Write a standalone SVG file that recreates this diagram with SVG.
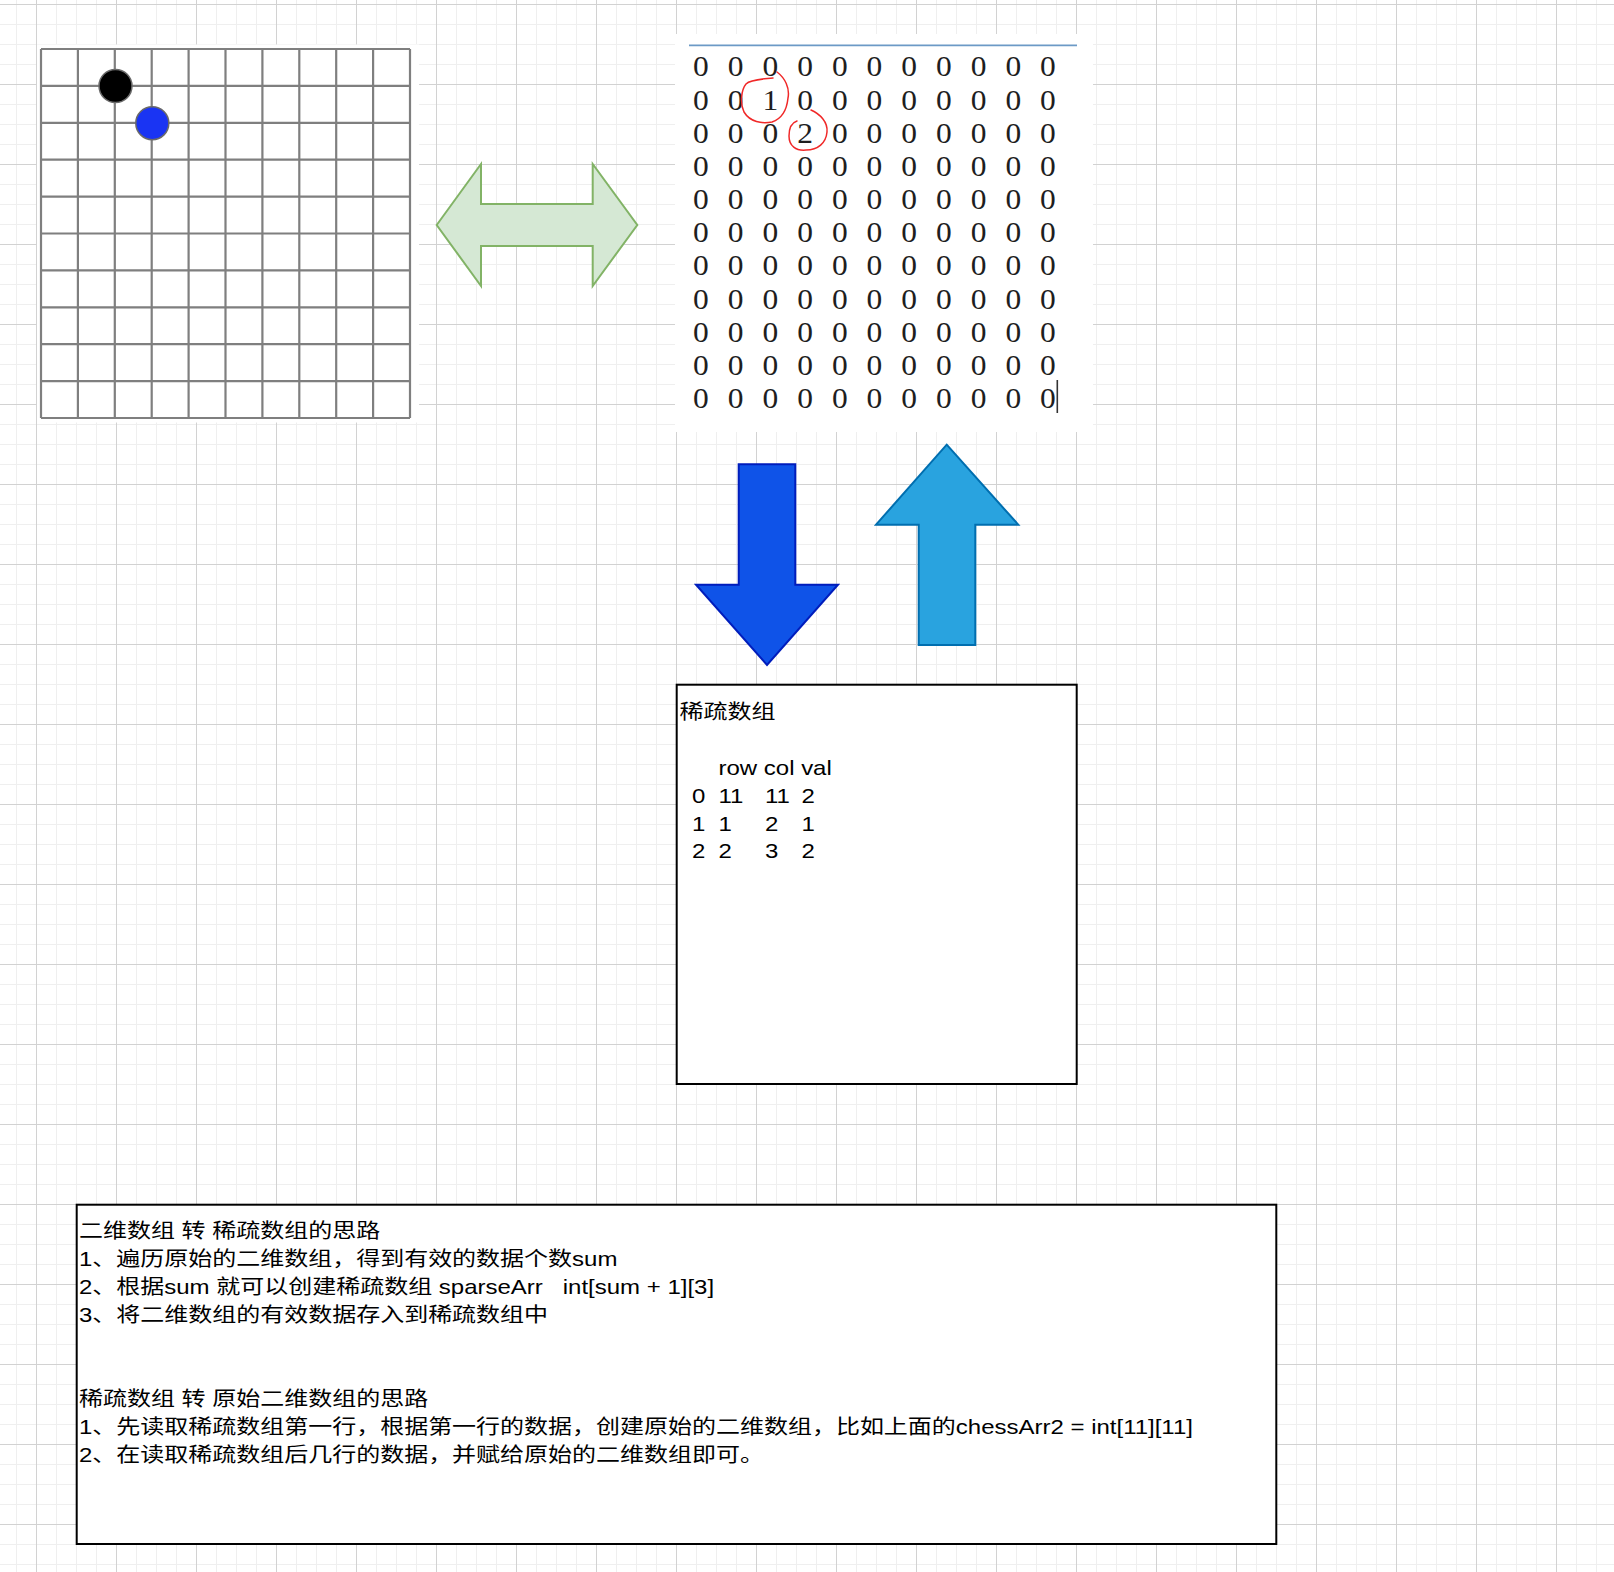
<svg xmlns="http://www.w3.org/2000/svg" width="1614" height="1572" viewBox="0 0 1614 1572">
<style>
.t{font-family:"Liberation Sans","Noto Sans CJK SC",sans-serif;font-size:20px;fill:#000;white-space:pre}
.m{font-family:"Liberation Serif",serif;font-size:30px;fill:#1e1e1e;text-anchor:middle}
.bl{stroke:#7f7f7f;stroke-width:2.2;fill:none}
.box{fill:#fff;stroke:#000;stroke-width:2}
.red{fill:none;stroke:#f02828;stroke-width:1.5;stroke-linecap:round}
</style>
<defs>
<pattern id="grid" x="16" y="4" width="80" height="80" patternUnits="userSpaceOnUse">
<path d="M0.5 0V80M20.5 0V80M40.5 0V80M60.5 0V80M0 0.5H80M0 20.5H80M0 40.5H80M0 60.5H80" stroke="#efefef" stroke-width="1" fill="none"/>
<path d="M20.5 0V80M0 0.5H80" stroke="#d2d2d2" stroke-width="1" fill="none"/>
</pattern>
</defs>
<rect width="1614" height="1572" fill="#fff"/>
<rect width="1614" height="1572" fill="url(#grid)"/>

<g id="board">
<rect x="37" y="44.5" width="382" height="378" fill="#fff"/>
<path class="bl" d="M41 49H410M41 85.9H410M41 122.8H410M41 159.7H410M41 196.6H410M41 233.5H410M41 270.4H410M41 307.3H410M41 344.2H410M41 381.1H410M41 418H410M41 49V418M77.9 49V418M114.8 49V418M151.7 49V418M188.6 49V418M225.5 49V418M262.4 49V418M299.3 49V418M336.2 49V418M373.1 49V418M410 49V418"/>
<circle cx="115.5" cy="86" r="16.5" fill="#000" stroke="#6a6a6a" stroke-width="1.5"/>
<circle cx="152.3" cy="123.2" r="16.5" fill="#1a34f3" stroke="#6a6a6a" stroke-width="1.5"/>
</g>

<g id="matrix">
<rect x="675" y="34" width="418" height="398" fill="#fff"/>
<line x1="689" y1="45.3" x2="1077" y2="45.3" stroke="#6c9ac6" stroke-width="1.8"/>
<g transform="scale(1.05,1)">
<text class="m" y="76.5" x="667.62 700.67 733.71 766.76 799.81 832.86 865.9 898.95 932 965.05 998.1">00000000000</text>
<text class="m" y="109.66" x="667.62 700.67 733.71 766.76 799.81 832.86 865.9 898.95 932 965.05 998.1">00100000000</text>
<text class="m" y="142.82" x="667.62 700.67 733.71 766.76 799.81 832.86 865.9 898.95 932 965.05 998.1">00020000000</text>
<text class="m" y="175.98" x="667.62 700.67 733.71 766.76 799.81 832.86 865.9 898.95 932 965.05 998.1">00000000000</text>
<text class="m" y="209.14" x="667.62 700.67 733.71 766.76 799.81 832.86 865.9 898.95 932 965.05 998.1">00000000000</text>
<text class="m" y="242.3" x="667.62 700.67 733.71 766.76 799.81 832.86 865.9 898.95 932 965.05 998.1">00000000000</text>
<text class="m" y="275.46" x="667.62 700.67 733.71 766.76 799.81 832.86 865.9 898.95 932 965.05 998.1">00000000000</text>
<text class="m" y="308.62" x="667.62 700.67 733.71 766.76 799.81 832.86 865.9 898.95 932 965.05 998.1">00000000000</text>
<text class="m" y="341.78" x="667.62 700.67 733.71 766.76 799.81 832.86 865.9 898.95 932 965.05 998.1">00000000000</text>
<text class="m" y="374.94" x="667.62 700.67 733.71 766.76 799.81 832.86 865.9 898.95 932 965.05 998.1">00000000000</text>
<text class="m" y="408.1" x="667.62 700.67 733.71 766.76 799.81 832.86 865.9 898.95 932 965.05 998.1">00000000000</text>
</g>
<path class="red" d="M777 72C785 78 790 88 788 98C787 108 784 118 772 122C762 124 750 122 744 112C740 104 741 90 746 84C751 79 765 79 773 78"/>
<path class="red" d="M811 110C820 114 828 122 827 132C826 143 818 150 806 150C796 151 789 146 789 136C789 128 791 123 797 121"/>
<line x1="1057.3" y1="380" x2="1057.3" y2="413" stroke="#333" stroke-width="1.6"/>
</g>

<g id="double-arrow">
<polygon points="436.7,225 481,164 481,204 592.7,204 592.7,164 637.3,225 592.7,286 592.7,246 481,246 481,286" fill="#d5e8d4" stroke="#82b366" stroke-width="2"/>
</g>

<g id="down-arrow">
<polygon points="738.7,464.3 795.3,464.3 795.3,584.7 838,584.7 767,665 696,584.7 738.7,584.7" fill="#0f53e8" stroke="#001dbc" stroke-width="2"/>
</g>

<g id="up-arrow">
<polygon points="946.7,444.7 1018.3,524.7 975.3,524.7 975.3,645 918.7,645 918.7,524.7 876,524.7" fill="#29a3df" stroke="#006eaf" stroke-width="2"/>
</g>

<g id="sparse-array">
<rect class="box" x="676.7" y="684.7" width="400" height="399.3"/>
<g transform="scale(1.2,1)">
<text class="t" x="566.25" y="719.5">稀疏数组</text>
<text class="t" x="598.75" y="775">row col val</text>
<text class="t" y="802.8"><tspan x="576.67">0</tspan><tspan x="598.75">11</tspan><tspan x="637.5">11</tspan><tspan x="667.92">2</tspan></text>
<text class="t" y="830.6"><tspan x="576.67">1</tspan><tspan x="598.75">1</tspan><tspan x="637.5">2</tspan><tspan x="667.92">1</tspan></text>
<text class="t" y="858.4"><tspan x="576.67">2</tspan><tspan x="598.75">2</tspan><tspan x="637.5">3</tspan><tspan x="667.92">2</tspan></text>
</g>
</g>

<g id="notes">
<rect class="box" x="76.7" y="1204.7" width="1199.6" height="339.3"/>
<g transform="scale(1.2,1)">
<text class="t" x="65.83" y="1238.5">二维数组 转 稀疏数组的思路</text>
<text class="t" x="65.83" y="1266.4">1、遍历原始的二维数组，得到有效的数据个数sum</text>
<text class="t" x="65.83" y="1294.3" xml:space="preserve">2、根据sum 就可以创建稀疏数组 sparseArr   int[sum + 1][3]</text>
<text class="t" x="65.83" y="1322.2">3、将二维数组的有效数据存入到稀疏数组中</text>
<text class="t" x="65.83" y="1405.9">稀疏数组 转 原始二维数组的思路</text>
<text class="t" x="65.83" y="1433.8">1、先读取稀疏数组第一行，根据第一行的数据，创建原始的二维数组，比如上面的chessArr2 = int[11][11]</text>
<text class="t" x="65.83" y="1461.7">2、在读取稀疏数组后几行的数据，并赋给原始的二维数组即可。</text>
</g>
</g>

<g id="connectors"/>
</svg>
